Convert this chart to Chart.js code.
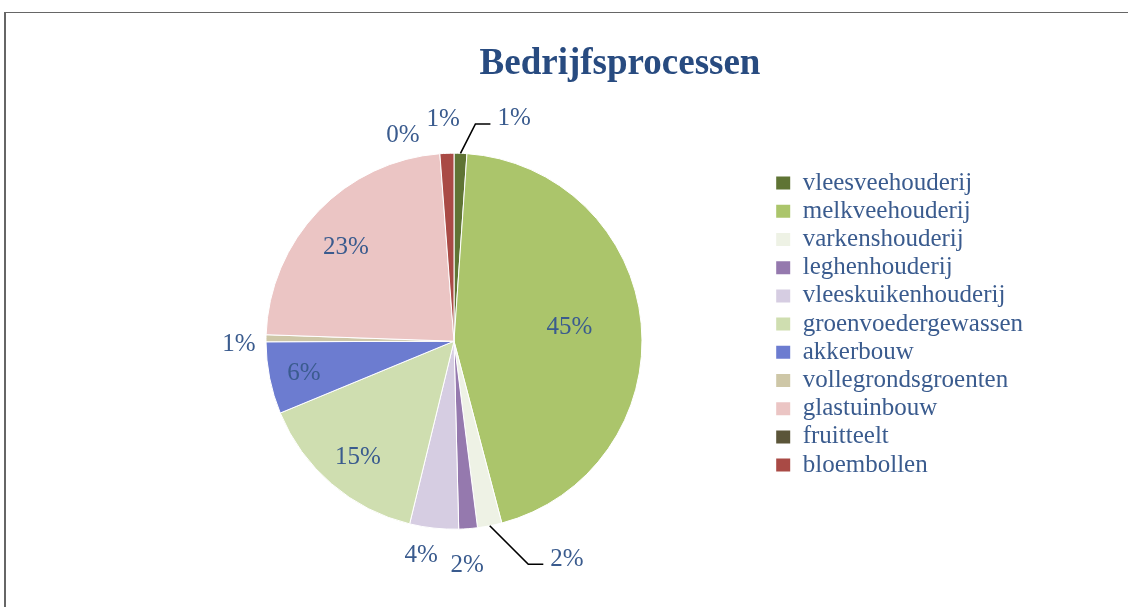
<!DOCTYPE html>
<html>
<head>
<meta charset="utf-8">
<script src="https://cdn.jsdelivr.net/npm/chart.js@4"></script>
<style>
  html, body { margin: 0; padding: 0; background: #fff; overflow: hidden; }
  #wrap { position: relative; width: 1128px; height: 607px; }
  #frame { position: absolute; left: 4px; top: 12px; width: 1130px; height: 600px;
           border-top: 1px solid #666; border-left: 2px solid #666; }
  canvas { position: absolute; left: 0; top: 0; }
</style>
</head>
<body>
<div id="wrap">
  <div id="frame"></div>
  <canvas id="pieChart" width="1128" height="607"></canvas>
</div>
<script>
// data
const categories = ['vleesveehouderij', 'melkveehouderij', 'varkenshouderij', 'leghenhouderij',
  'vleeskuikenhouderij', 'groenvoedergewassen', 'akkerbouw', 'vollegrondsgroenten',
  'glastuinbouw', 'fruitteelt', 'bloembollen'];
const shares = [1.1, 44.9, 2.1, 1.6, 4.2, 15.0, 6.2, 0.6, 23.3, 0, 1.2];
const sliceColors = ['#5f7434', '#abc56b', '#eef2e5', '#9579ae', '#d6cde2', '#cfdeb0',
  '#6c7cd0', '#cec7a7', '#ebc5c4', '#5b5539', '#a94a45'];

// where each percentage label sits: angle from top (deg) and distance in radii
const labelPlacement = [
  { a: 15, f: 1.235, leader: true },
  { a: 82, f: 0.62 },
  { a: 152.4, f: 1.297, leader: true },
  { a: 176.6, f: 1.183 },
  { a: 188.8, f: 1.141 },
  { a: 220.1, f: 0.793 },
  { a: 258.7, f: 0.814 },
  { a: 269.7, f: 1.144 },
  { a: 311.6, f: 0.769 },
  { a: 346.2, f: 1.139 },
  { a: 357.2, f: 1.193 }
];

const textColor = '#3a5b8e';
const serif = '"Liberation Serif", "Times New Roman", serif';

const pieLabels = {
  id: 'pieLabels',
  beforeLayout(chart) {
    // fixed legend width so the legend column sits where it does in the picture
    const lg = chart.legend;
    if (lg && !lg._fixed) {
      const fit = lg.fit;
      lg.fit = function() { fit.call(this); this.width = 332; };
      lg._fixed = true;
    }
  },
  afterDatasetsDraw(chart) {
    const ctx = chart.ctx;
    const meta = chart.getDatasetMeta(0);
    const total = shares.reduce((s, v) => s + v, 0);
    ctx.save();
    ctx.font = '25px ' + serif;
    ctx.fillStyle = textColor;
    ctx.textAlign = 'center';
    ctx.textBaseline = 'middle';
    meta.data.forEach((arc, i) => {
      const p = arc.getProps(['x', 'y', 'startAngle', 'endAngle', 'outerRadius'], true);
      const R = p.outerRadius;
      const place = labelPlacement[i];
      const th = place.a * Math.PI / 180;
      const lx = p.x + place.f * R * Math.sin(th);
      const ly = p.y - place.f * R * Math.cos(th) + 2;
      const txt = Math.round(shares[i] / total * 100) + '%';
      ctx.fillText(txt, lx, ly);
      if (place.leader) {
        const mid = (p.startAngle + p.endAngle) / 2;
        const ex = p.x + R * Math.cos(mid);
        const ey = p.y + R * Math.sin(mid);
        const w = ctx.measureText(txt).width;
        const endX = lx - w / 2 - 7;
        const lineY = ly + 5;
        ctx.beginPath();
        ctx.moveTo(ex, ey);
        ctx.lineTo(endX - 15, lineY);
        ctx.lineTo(endX, lineY);
        ctx.strokeStyle = '#000';
        ctx.lineWidth = 1.6;
        ctx.stroke();
      }
    });
    ctx.restore();
  }
};

const baseLabels = Chart.overrides.pie.plugins.legend.labels.generateLabels;

new Chart(document.getElementById('pieChart').getContext('2d'), {
  type: 'pie',
  data: {
    labels: categories,
    datasets: [{
      data: shares,
      backgroundColor: sliceColors,
      borderColor: '#ffffff',
      borderWidth: 1,
      radius: 188,
      clip: false
    }]
  },
  options: {
    responsive: false,
    animation: false,
    layout: { padding: { left: 135, right: 23, top: 10, bottom: 92 } },
    plugins: {
      title: {
        display: true,
        text: 'Bedrijfsprocessen',
        color: '#284b80',
        font: { family: serif, size: 37, weight: 'bold' },
        padding: { top: 32, bottom: 81 }
      },
      legend: {
        position: 'right',
        align: 'start',
        fullSize: false,
        labels: {
          color: textColor,
          font: { family: serif, size: 25 },
          boxWidth: 14,
          boxHeight: 13,
          padding: 3.2,
          generateLabels(chart) {
            return baseLabels(chart).map(item => Object.assign(item, { lineWidth: 0 }));
          }
        }
      },
      tooltip: { enabled: false }
    }
  },
  plugins: [pieLabels]
});
</script>
</body>
</html>
